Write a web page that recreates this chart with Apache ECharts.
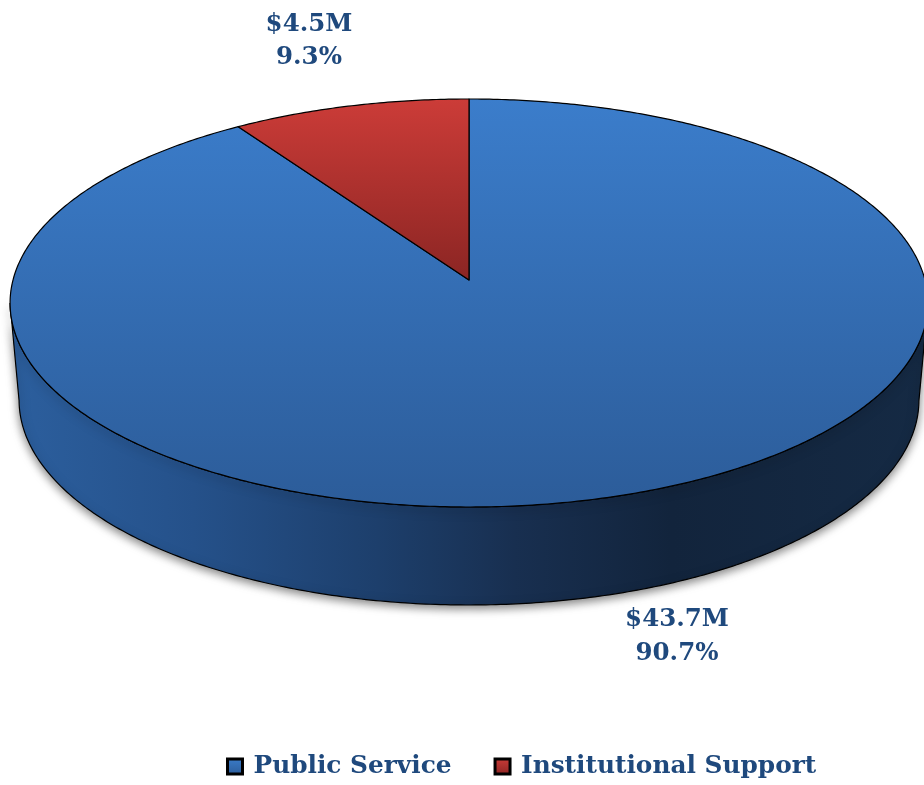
<!DOCTYPE html>
<html><head><meta charset="utf-8">
<style>html,body{margin:0;padding:0;background:#fff}#c{width:924px;height:785px}</style>
<script src="https://cdn.jsdelivr.net/npm/echarts@6/dist/echarts.min.js"></script>
</head><body><div id="c"></div>
<script>
const categories = ['Public Service', 'Institutional Support'];
const amounts = [43.7, 4.5];
const shares = [90.7, 9.3];

// Drawing layout: pie disc seen in perspective
const TOP = {cx: 469, cy: 303, rx: 459, ry: 204};
const BOTTOM = {cx: 469, cy: 400, rx: 450, ry: 205};
const PERSP = {a: 456, b: 204, c: 23, k: 0.1127};
const LABEL_POS = [[677, 620, 654], [309, 25, 58]];
const INK = '#1f497d';
const FONT = 'bold 24.5px "DejaVu Serif", serif';

const topFills = [
  {type:'linear',x:0,y:0,x2:0,y2:1,colorStops:[{offset:0,color:'#3b7dcb'},{offset:1,color:'#2c5c99'}]},
  {type:'linear',x:0,y:0,x2:0,y2:1,colorStops:[{offset:0,color:'#cc3c38'},{offset:1,color:'#8b2523'}]}
];
const sideFill = {type:'linear',x:0,y:0,x2:1,y2:0,colorStops:[
  {offset:0,color:'#2c5f9e'},{offset:0.2,color:'#25518a'},{offset:0.4,color:'#1d3f6c'},
  {offset:0.55,color:'#182f50'},{offset:0.72,color:'#12243c'},{offset:1,color:'#152a44'}]};

const total = amounts.reduce((s,v)=>s+v,0);
const starts = [];
amounts.reduce((acc,v,i)=>{starts[i]=acc;return acc+v;},0);

function project(theta){
  const u=Math.sin(theta), v=Math.cos(theta), d=1+PERSP.k*v;
  return [TOP.cx+PERSP.a*u/d, TOP.cy-(PERSP.b*v+PERSP.c)/d];
}
function toBottom(p){
  return [BOTTOM.cx+(p[0]-TOP.cx)/TOP.rx*BOTTOM.rx, BOTTOM.cy+(p[1]-TOP.cy)/TOP.ry*BOTTOM.ry];
}
function arcPoints(t0,t1){
  const pts=[], n=Math.max(2,Math.ceil((t1-t0)/0.01));
  for(let i=0;i<=n;i++) pts.push(project(t0+(t1-t0)*i/n));
  return pts;
}
function makeRender(idx){
  return function(){
    const t0=starts[idx]/total*2*Math.PI, t1=(starts[idx]+amounts[idx])/total*2*Math.PI;
    const arc=arcPoints(t0,t1);
    const children=[];
    const front=arc.filter(p=>p[1]>=TOP.cy);
    if(front.length>1){
      const first=[TOP.cx+TOP.rx,TOP.cy], last=[TOP.cx-TOP.rx,TOP.cy];
      const upper=[first].concat(front,[last]);
      const poly=upper.concat(upper.map(toBottom).reverse());
      children.push({type:'polygon',shape:{points:poly},style:{fill:sideFill,stroke:'#000',lineWidth:1.2,
        shadowColor:'rgba(0,0,0,0.5)',shadowBlur:10,shadowOffsetX:0,shadowOffsetY:3}});
    }
    children.push({type:'polygon',shape:{points:[[TOP.cx,TOP.cy-PERSP.c]].concat(arc)},
      style:{fill:topFills[idx],stroke:'#000',lineWidth:1.2,lineJoin:'round'}});
    const pos=LABEL_POS[idx];
    children.push({type:'text',style:{text:'$'+amounts[idx].toFixed(1)+'M',x:pos[0],y:pos[1],align:'center',verticalAlign:'middle',font:FONT,fill:INK}});
    children.push({type:'text',style:{text:shares[idx].toFixed(1)+'%',x:pos[0],y:pos[2],align:'center',verticalAlign:'middle',font:FONT,fill:INK}});
    return {type:'group',children};
  };
}

const chart=echarts.init(document.getElementById('c'),null,{renderer:'canvas'});
chart.setOption({
  animation:false,
  legend:{
    data:categories.map((n,i)=>({name:n,icon:'rect',itemStyle:{color:topFills[i],borderColor:'#000',borderWidth:3}})),
    left:221, top:749, itemWidth:15, itemHeight:15, itemGap:42,
    textStyle:{color:INK,fontFamily:'DejaVu Serif',fontWeight:'bold',fontSize:24.8,padding:[0,0,0,6]}
  },
  series:categories.map((n,i)=>({
    type:'custom',name:n,coordinateSystem:'none',
    itemStyle:{color:i===0?'#3b7dcb':'#cc3c38'},
    data:[amounts[i]],
    renderItem:makeRender(i)
  }))
});
</script></body></html>
